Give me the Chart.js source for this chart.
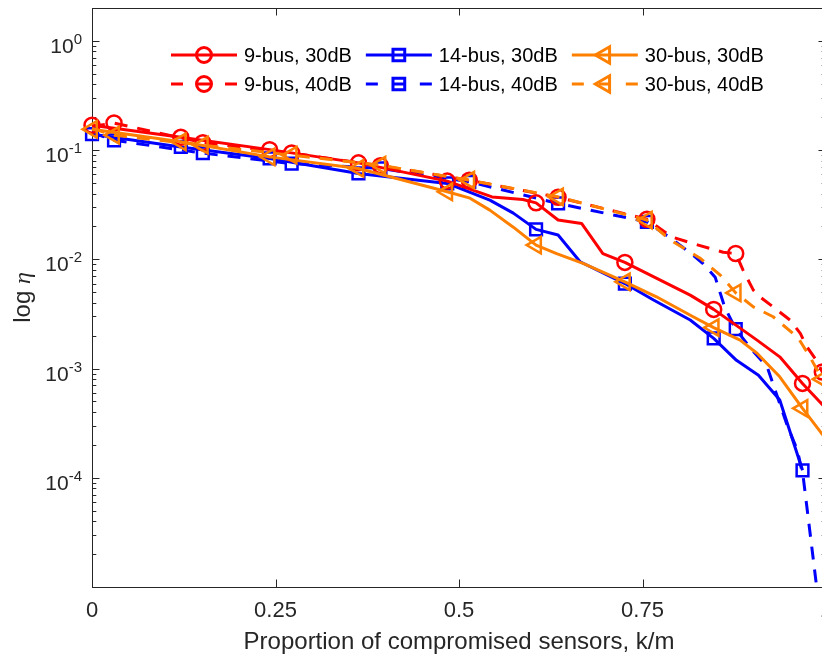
<!DOCTYPE html>
<html>
<head>
<meta charset="utf-8">
<script src="https://cdn.jsdelivr.net/npm/chart.js@4.4.0/dist/chart.umd.min.js"></script>
<style>
  html, body { margin: 0; padding: 0; overflow: hidden; background: #fff; }
  #wrap { position: relative; width: 830px; height: 658px; }
</style>
</head>
<body>
<div id="wrap"><canvas id="chart" width="830" height="658"></canvas></div>
<script>
// Axis ticks
const xTicks = [0, 0.25, 0.5, 0.75, 1];
const yDecades = [0, -1, -2, -3, -4];
const yMin = 1e-5, yMax = 2;
const xTitle = 'Proportion of compromised sensors, k/m';

// 9-bus, 30dB
const bus9_30x = [0, 0.121, 0.242, 0.363, 0.484, 0.545, 0.587, 0.605, 0.635, 0.667, 0.696, 0.726, 0.815, 0.847, 0.906, 0.937, 0.968, 1.0];
const bus9_30y = [0.169, 0.131, 0.101, 0.0764, 0.052, 0.0373, 0.0353, 0.0329, 0.0229, 0.0213, 0.0113, 0.00937, 0.0047, 0.00348, 0.00182, 0.00128, 0.000731, 0.00043];
const bus9_30m = [0, 1, 2, 3, 4, 7, 11, 13, 16];

// 9-bus, 40dB
const bus9_40x = [0, 0.03, 0.151, 0.272, 0.393, 0.514, 0.635, 0.756, 0.79, 0.826, 0.86, 0.877, 0.887, 0.901, 0.910, 0.928, 0.951, 0.965, 0.974, 0.987, 0.995, 1.0];
const bus9_40y = [0.165, 0.177, 0.117, 0.094, 0.072, 0.053, 0.037, 0.0233, 0.016, 0.0135, 0.0116, 0.0113, 0.00796, 0.00522, 0.00454, 0.00367, 0.00278, 0.0021, 0.00158, 0.00119, 0.00093, 0.0008];
const bus9_40m = [1, 2, 3, 4, 5, 6, 7, 11, 20];

// 14-bus, 30dB
const bus14_30x = [0, 0.121, 0.242, 0.363, 0.484, 0.542, 0.574, 0.605, 0.635, 0.665, 0.726, 0.765, 0.815, 0.847, 0.878, 0.908, 0.937, 0.968];
const bus14_30y = [0.140, 0.107, 0.0839, 0.0611, 0.0495, 0.0348, 0.0265, 0.0188, 0.0167, 0.0095, 0.0060, 0.00424, 0.00278, 0.00189, 0.00119, 0.00087, 0.000515, 0.000117];
const bus14_30m = [0, 1, 2, 3, 4, 7, 10, 13, 17];

// 14-bus, 40dB
const bus14_40x = [0, 0.03, 0.151, 0.272, 0.393, 0.514, 0.635, 0.756, 0.792, 0.819, 0.832, 0.849, 0.862, 0.877, 0.897, 0.920, 0.947, 0.961, 0.969, 1.0];
const bus14_40y = [0.145, 0.123, 0.0938, 0.0753, 0.0679, 0.0512, 0.0325, 0.022, 0.015, 0.0109, 0.0092, 0.00687, 0.00365, 0.0023, 0.00154, 0.00103, 0.000303, 0.000179, 0.000101, 0.000002];
const bus14_40m = [1, 2, 3, 4, 5, 6, 7, 13];

// 30-bus, 30dB
const bus30_30x = [0, 0.121, 0.242, 0.363, 0.484, 0.515, 0.542, 0.574, 0.605, 0.633, 0.669, 0.726, 0.769, 0.819, 0.847, 0.883, 0.906, 0.937, 0.968, 0.994, 1.0];
const bus30_30y = [0.155, 0.119, 0.0867, 0.0679, 0.0415, 0.0363, 0.0282, 0.0197, 0.0135, 0.0113, 0.00917, 0.00622, 0.00454, 0.00298, 0.00237, 0.00182, 0.00138, 0.00084, 0.000432, 0.000255, 0.00023];
const bus30_30m = [0, 1, 2, 3, 4, 8, 11, 14, 18];

// 30-bus, 40dB
const bus30_40x = [0, 0.03, 0.151, 0.272, 0.393, 0.514, 0.635, 0.756, 0.788, 0.828, 0.856, 0.877, 0.901, 0.928, 0.955, 0.964, 0.978, 0.995, 1.0];
const bus30_40y = [0.158, 0.137, 0.111, 0.0899, 0.0728, 0.0531, 0.0373, 0.0229, 0.015, 0.0103, 0.00717, 0.00493, 0.00367, 0.00298, 0.0021, 0.00182, 0.00128, 0.0008, 0.0007];
const bus30_40m = [1, 2, 3, 4, 5, 6, 7, 11, 17];

const AXIS = '#262626';
const FONT = '"Liberation Sans", Arial, Helvetica, sans-serif';
const RED = '#FF0000', BLUE = '#0000FF', ORANGE = '#FF8000';

function series(label, xs, ys, marks, color, style, radius, dashed, order) {
    return {
        label: label,
        data: xs.map((x, i) => ({ x: x, y: ys[i] })),
        order: order,
        showLine: true,
        tension: 0,
        fill: false,
        borderColor: color,
        borderWidth: 3,
        borderDash: dashed ? [13, 10] : [],
        borderJoinStyle: 'round',
        pointStyle: style,
        pointRotation: style === 'triangle' ? -90 : 0,
        pointRadius: ctx => marks.includes(ctx.dataIndex) ? radius : 0,
        pointHoverRadius: 0,
        pointBorderColor: color,
        pointBackgroundColor: 'rgba(0,0,0,0)',
        pointBorderWidth: 2.5,
        markerRadius: radius,
        clip: { left: 14, top: 0, right: 20, bottom: 0 }
    };
}

// Box, inward ticks, y labels and y title (MATLAB style)
const framePlugin = {
    id: 'frame',
    beforeDatasetsDraw(chart) {
        const { ctx, chartArea: a, scales: { x, y } } = chart;
        ctx.save();
        ctx.strokeStyle = AXIS;
        ctx.lineWidth = 1;
        ctx.strokeRect(a.left + 0.5, a.top + 0.5, a.right - a.left - 1, a.bottom - a.top);

        ctx.beginPath();
        xTicks.forEach(v => {
            const px = Math.round(x.getPixelForValue(v)) + 0.5;
            ctx.moveTo(px, a.bottom); ctx.lineTo(px, a.bottom - 7.5);
            ctx.moveTo(px, a.top); ctx.lineTo(px, a.top + 7.5);
        });
        for (let e = -5; e <= 0; e++) {
            for (let k = 1; k <= 9; k++) {
                const v = k * Math.pow(10, e);
                if (v < yMin || v > yMax) continue;
                const py = Math.round(y.getPixelForValue(v)) + 0.5;
                const len = k === 1 ? 7.5 : 4.3;
                ctx.moveTo(a.left, py); ctx.lineTo(a.left + len, py);
                ctx.moveTo(a.right, py); ctx.lineTo(a.right - len, py);
            }
        }
        ctx.stroke();

        // y tick labels 10^n
        ctx.fillStyle = AXIS;
        ctx.textBaseline = 'alphabetic';
        yDecades.forEach(e => {
            const py = y.getPixelForValue(Math.pow(10, e));
            const sup = String(e);
            ctx.font = '15px ' + FONT;
            const sw = ctx.measureText(sup).width;
            ctx.textAlign = 'left';
            ctx.fillText(sup, 82 - sw, py + 3);
            ctx.font = '21px ' + FONT;
            ctx.textAlign = 'right';
            ctx.fillText('10', 82 - sw, py + 12);
        });

        // y title: log η
        ctx.translate(30, (a.top + a.bottom) / 2);
        ctx.rotate(-Math.PI / 2);
        ctx.textAlign = 'left';
        ctx.font = '24px ' + FONT;
        const w1 = ctx.measureText('log ').width;
        ctx.font = 'italic 24px "Liberation Serif", "DejaVu Serif", serif';
        const w2 = ctx.measureText('\u03B7').width;
        const start = -(w1 + w2) / 2;
        ctx.font = '24px ' + FONT;
        ctx.fillText('log ', start, 0);
        ctx.font = 'italic 24px "Liberation Serif", "DejaVu Serif", serif';
        ctx.fillText('\u03B7', start + w1, 0);
        ctx.restore();
    }
};

// Legend: 2 rows x 3 columns, line sample with marker
const legendPlugin = {
    id: 'mlegend',
    afterDraw(chart) {
        const ctx = chart.ctx;
        const sets = chart.data.datasets;
        const rows = [55, 84];
        let x0 = 171;
        ctx.save();
        for (let c = 0; c < 3; c++) {
            let maxW = 0;
            for (let r = 0; r < 2; r++) {
                const ds = sets[c * 2 + r];
                const yy = rows[r];
                ctx.strokeStyle = ds.borderColor;
                ctx.lineWidth = 3;
                ctx.setLineDash(ds.borderDash.length ? [12, 15] : []);
                ctx.beginPath();
                ctx.moveTo(x0, yy); ctx.lineTo(x0 + 66, yy);
                ctx.stroke();
                ctx.setLineDash([]);
                ctx.fillStyle = 'rgba(0,0,0,0)';
                Chart.helpers.drawPoint(ctx, {
                    pointStyle: ds.pointStyle, rotation: ds.pointRotation,
                    radius: ds.markerRadius, borderWidth: 2.5
                }, x0 + 33, yy);
                ctx.font = '20px ' + FONT;
                ctx.fillStyle = '#000';
                ctx.textAlign = 'left';
                ctx.textBaseline = 'middle';
                ctx.fillText(ds.label, x0 + 73, yy + 1);
                maxW = Math.max(maxW, ctx.measureText(ds.label).width);
            }
            x0 += 73 + maxW + 14;
        }
        ctx.restore();
    }
};

new Chart(document.getElementById('chart'), {
    type: 'scatter',
    data: {
        datasets: [
            series('9-bus, 30dB', bus9_30x, bus9_30y, bus9_30m, RED, 'circle', 7.5, false, 3),
            series('9-bus, 40dB', bus9_40x, bus9_40y, bus9_40m, RED, 'circle', 7.5, true, 2),
            series('14-bus, 30dB', bus14_30x, bus14_30y, bus14_30m, BLUE, 'rect', 8.3, false, 5),
            series('14-bus, 40dB', bus14_40x, bus14_40y, bus14_40m, BLUE, 'rect', 8.3, true, 4),
            series('30-bus, 30dB', bus30_30x, bus30_30y, bus30_30m, ORANGE, 'triangle', 9.5, false, 1),
            series('30-bus, 40dB', bus30_40x, bus30_40y, bus30_40m, ORANGE, 'triangle', 9.5, true, 0)
        ]
    },
    options: {
        responsive: false,
        animation: false,
        events: [],
        layout: { autoPadding: false, padding: { top: 8, right: 4, left: 0, bottom: 0 } },
        plugins: { legend: { display: false }, tooltip: { enabled: false } },
        scales: {
            x: {
                type: 'linear', min: 0, max: 1,
                afterBuildTicks: s => { s.ticks = xTicks.map(v => ({ value: v })); },
                afterFit: s => { s.height = 71; s.paddingLeft = 0; s.paddingRight = 0; },
                grid: { display: false, drawTicks: false },
                border: { display: false },
                ticks: {
                    color: AXIS, font: { family: FONT, size: 22 }, padding: 11,
                    maxRotation: 0, autoSkip: false, callback: v => String(v)
                },
                title: {
                    display: true, text: xTitle, color: AXIS,
                    font: { family: FONT, size: 24 }, padding: { top: 0, bottom: 1 }
                }
            },
            y: {
                type: 'logarithmic', min: yMin, max: yMax,
                afterFit: s => { s.width = 92; s.paddingTop = 0; s.paddingBottom = 0; },
                grid: { display: false, drawTicks: false },
                border: { display: false },
                ticks: { display: false }
            }
        }
    },
    plugins: [framePlugin, legendPlugin]
});
</script>
</body>
</html>
